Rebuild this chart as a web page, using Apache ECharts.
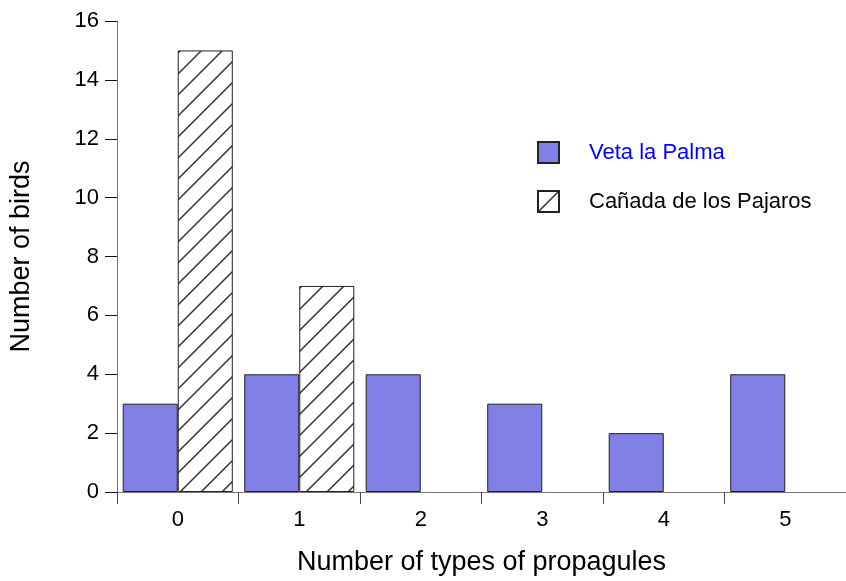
<!DOCTYPE html>
<html><head><meta charset="utf-8">
<script src="https://cdn.jsdelivr.net/npm/echarts@6/dist/echarts.min.js"></script>
<style>html,body{margin:0;padding:0;background:#fff}#c{width:846px;height:581px}</style>
</head><body><div id="c"></div>
<script>
var categories = ['0','1','2','3','4','5'];
var vetaLaPalma = [3,4,4,3,2,4];
var canadaPajaros = [15,7,0,0,0,0];
var yTicks = [0,2,4,6,8,10,12,14,16];

function hatch(){
  var s = 21, c = document.createElement('canvas');
  c.width = s; c.height = s;
  var g = c.getContext('2d');
  g.fillStyle = '#fff'; g.fillRect(0,0,s,s);
  g.strokeStyle = '#333'; g.lineWidth = 1.5;
  g.beginPath();
  g.moveTo(0,s); g.lineTo(s,0);
  g.moveTo(-2,2); g.lineTo(2,-2);
  g.moveTo(s-2,s+2); g.lineTo(s+2,s-2);
  g.stroke();
  return c;
}

var chart = echarts.init(document.getElementById('c'));
var font = 'Liberation Sans, Arial, sans-serif';
chart.setOption({
  animation:false,
  grid:{left:116, top:21, bottom:88, width:735},
  legend:{
    orient:'vertical', left:537, top:141, padding:0, itemWidth:21, itemHeight:21, itemGap:26,
    icon:'rect',
    textStyle:{fontFamily:font, fontSize:22, color:'#000', padding:[0,0,0,25]},
    data:[{name:'Veta la Palma', textStyle:{color:'#0000ff'}},{name:'Cañada de los Pajaros'}]
  },
  xAxis:{
    type:'category', data:categories,
    axisLine:{lineStyle:{color:'#777', width:1}},
    axisTick:{show:true, inside:false, length:12, lineStyle:{color:'#444'}},
    axisLabel:{fontFamily:font, fontSize:22, color:'#000', margin:17},
    name:'Number of types of propagules', nameLocation:'middle', nameGap:57,
    nameTextStyle:{fontFamily:font, fontSize:27, color:'#000'}
  },
  yAxis:{
    type:'value', min:yTicks[0], max:yTicks[yTicks.length-1], interval:2,
    splitLine:{show:false},
    axisLine:{show:true, lineStyle:{color:'#777', width:1}},
    axisTick:{show:true, length:12, lineStyle:{color:'#111'}},
    axisLabel:{fontFamily:font, fontSize:22, color:'#000', margin:18},
    name:'Number of birds', nameLocation:'middle', nameGap:82,
    nameTextStyle:{fontFamily:font, fontSize:27, color:'#000'}
  },
  series:[
    {name:'Veta la Palma', type:'bar', data:vetaLaPalma, barGap:'0%', barCategoryGap:'9.4%',
     itemStyle:{color:'#7f7fe6', borderColor:'#222', borderWidth:1}},
    {name:'Cañada de los Pajaros', type:'bar',
     data:canadaPajaros.map(function(v){return v === 0 ? '-' : v;}),
     itemStyle:{color:{image:hatch(), repeat:'repeat'}, borderColor:'#222', borderWidth:1}}
  ]
});
</script></body></html>
